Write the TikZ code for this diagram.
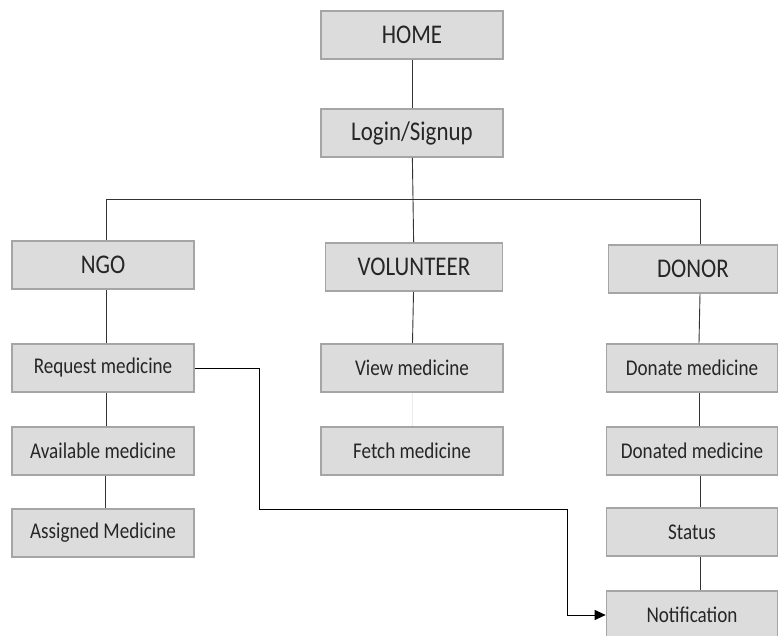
\documentclass[tikz,border=0pt]{standalone}
\usepackage{fontspec}
\setmainfont{Carlito}[FakeStretch=0.85]
\usetikzlibrary{positioning}
\usetikzlibrary{arrows.meta}
\definecolor{boxfill}{HTML}{DCDCDC}
\definecolor{boxline}{HTML}{A5A5A5}
\definecolor{ink}{HTML}{262626}

\begin{document}
\begin{tikzpicture}[x=1pt, y=-1pt, on grid,
                    menu/.style={draw=boxline, fill=boxfill, line width=1.6pt,
                                 minimum height=48pt, inner sep=0pt, text=ink},
                    head/.style={menu, font=\fontsize{27}{30}\selectfont},
                    item/.style={menu, font=\fontsize{22.5}{26}\selectfont},
                    link/.style={draw=black!80, line width=0.9pt}]

  \useasboundingbox[fill=white] (0,0) rectangle (780,636);

  % top of the menu
  \node[head, minimum width=182pt] (home)  at (412,35)  {HOME};
  \node[head, minimum width=182pt] (login) at (412,133) {Login/Signup};

  % the three roles
  \node[head, minimum width=182pt] (ngo)   at (103,265) {NGO};
  \node[head, minimum width=177pt] (vol)   at (414,267) {VOLUNTEER};
  \node[head, minimum width=169pt] (donor) at (693,269) {DONOR};

  % ngo column
  \node[item, minimum width=182pt] (req) at (103,368) {Request medicine};
  \node[item, minimum width=182pt, below=83pt of req]   (avail)    {Available medicine};
  \node[item, minimum width=182pt, below=82pt of avail] (assigned) {Assigned Medicine};

  % volunteer column
  \node[item, minimum width=182pt] (view) at (412,368) {View medicine};
  \node[item, minimum width=182pt, below=83pt of view] (fetch) {Fetch medicine};

  % donor column
  \node[item, minimum width=171pt] (donate) at (692,368) {Donate medicine};
  \node[item, minimum width=171pt, below=83pt of donate]  (donated) {Donated medicine};
  \node[item, minimum width=171pt, below=81pt of donated] (status)  {Status};
  \node[item, minimum width=171pt, below=83pt of status]  (notif)   {Notification};

  \coordinate (bus)   at (413,199);
  \coordinate (bendA) at (259,509);
  \coordinate (bendB) at (567,509);

  \draw[link] (home) -- (login);
  \draw[link] (login) -- (bus);
  \draw[link] (bus) -| ([xshift=3pt]ngo.north);
  \draw[link] (bus) -- (vol);
  \draw[link] (bus) -| ([xshift=7pt]donor.north);

  \draw[link] ([xshift=3pt]ngo.south) -- ([xshift=3pt]req.north);
  \draw[link] ([xshift=3pt]req.south) -- ([xshift=3pt]avail.north);
  \draw[link] ([xshift=2pt]avail.south) -- ([xshift=2pt]assigned.north);

  \draw[link] (vol) -- (view);
  \draw[draw=black!8, line width=0.9pt] (view) -- (fetch);

  \draw[link] ([xshift=7pt]donor.south) -- ([xshift=7pt]donate.north);
  \draw[link] ([xshift=7pt]donate.south) -- ([xshift=7pt]donated.north);
  \draw[link] ([xshift=8pt]donated.south) -- ([xshift=8pt]status.north);
  \draw[link] ([xshift=8pt]status.south) -- ([xshift=8pt]notif.north);

  \draw[link, draw=black, -{Triangle[length=11pt, width=10pt]}]
    (req.east) -| (bendA) -- (bendB) |- (notif.west);

\end{tikzpicture}
\end{document}
